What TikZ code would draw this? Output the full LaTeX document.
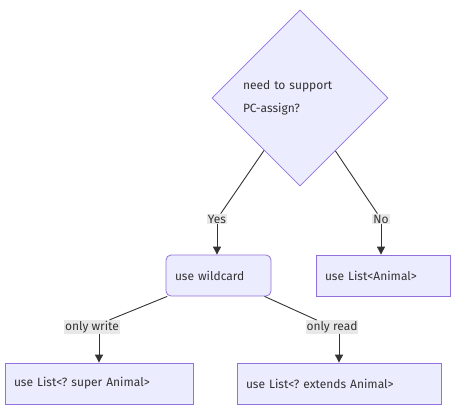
\documentclass[tikz,border=0pt]{standalone}
\usepackage{fontspec}
\setmainfont{Fira Sans}
\frenchspacing
\usetikzlibrary{shapes.geometric,arrows.meta}
\definecolor{boxfill}{HTML}{ECECFF}
\definecolor{boxline}{HTML}{9370DB}
\definecolor{edgeline}{HTML}{333333}
\definecolor{labelbg}{HTML}{E8E8E8}
\tikzset{
  decision/.style={shape=diamond, aspect=1, draw=boxline, fill=boxfill,
    line width=0.8pt, minimum width=176pt, minimum height=176pt, inner sep=0pt},
  choice/.style={draw=boxline, fill=boxfill, line width=0.8pt,
    minimum height=41pt, inner ysep=0pt, inner xsep=9pt, align=left},
  edgelabel/.style={fill=labelbg, inner xsep=1pt, inner ysep=1pt},
  link/.style={draw=edgeline, line width=0.9pt},
  arrowlink/.style={link, -{Triangle[length=8pt,width=8pt]}}
}
\begin{document}
\begin{tikzpicture}[x=1pt, y=-1pt, font=\fontsize{12}{23}\selectfont, text=edgeline]
  % fix the page to the reference size
  \useasboundingbox (0,0) rectangle (465,413);

  % the question
  \node[decision, text width=114pt, align=left] (q) at (300,98)
    {need to support\\PC-assign?};

  % labels on the edges
  \node[edgelabel] (yes) at (217,219) {Yes};
  \node[edgelabel] (no)  at (381,219) {No};
  \node[edgelabel] (lw)  at (92,327)  {only write};
  \node[edgelabel] (lr)  at (332,327) {only read};

  % answers
  \node[choice, rounded corners=5pt, text width=87pt] (wild) at (218.5,275.5) {use wildcard};
  \node[choice, text width=116pt] (plain) at (383,275.5) {use List<Animal>};
  \node[choice, text width=170pt] (sup) at (99,383.5) {use List<? super Animal>};
  \node[choice, text width=186pt] (ext) at (339,383.5) {use List<? extends Animal>};

  % edges: node -- label, then label -> node
  \draw[link] (q) -- (yes);
  \draw[arrowlink] (yes) -- (yes |- wild.north);
  \draw[link] (q) -- (no);
  \draw[arrowlink] (no) -- (no |- plain.north);
  \draw[link] (wild) -- (lw);
  \draw[arrowlink] (lw.south -| sup.north) -- (sup.north);
  \draw[link] (wild) -- (lr);
  \draw[arrowlink] (lr.south -| ext.north) -- (ext.north);
\end{tikzpicture}
\end{document}
